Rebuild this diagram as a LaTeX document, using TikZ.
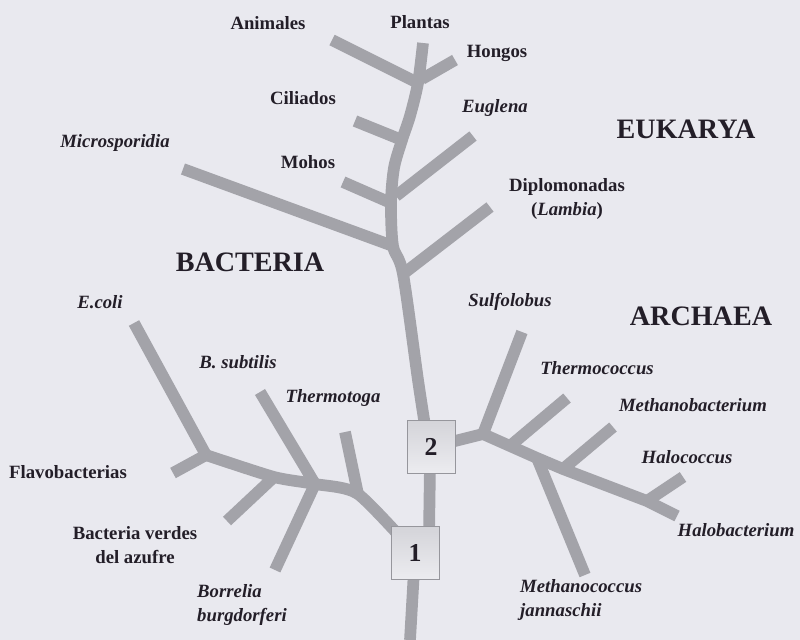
\documentclass[tikz,border=0pt]{standalone}
\usepackage{fontspec}
\setmainfont{Liberation Serif}
\definecolor{bg}{RGB}{233,233,239}
\definecolor{br}{RGB}{163,163,169}
\definecolor{ink}{RGB}{35,30,40}
\definecolor{boxedge}{RGB}{150,150,156}
\definecolor{boxtop}{RGB}{212,212,217}
\definecolor{boxbot}{RGB}{236,236,240}
\tikzset{
  branch/.style={draw=br, line width=10pt, line join=round, line cap=butt},
  lab/.style={text=ink, inner sep=0pt, font=\fontsize{16}{21}\selectfont\bfseries},
  ilab/.style={text=ink, inner sep=0pt, font=\fontsize{16}{21}\selectfont\bfseries\itshape},
  big/.style={text=ink, inner sep=0pt, font=\fontsize{24}{28}\selectfont\bfseries},
  numbox/.style={draw=boxedge, line width=0.8pt, top color=boxtop, bottom color=boxbot,
    minimum width=1.44cm, minimum height=1.59cm, inner sep=0pt, text=ink,
    font=\fontsize{22}{24}\selectfont\bfseries}
}
\begin{document}
\begin{tikzpicture}[x=0.03cm, y=-0.03cm]
\fill[bg] (0,0) rectangle (800,640);
\useasboundingbox (0,0) rectangle (800,640);
% --- coordinates ---
\coordinate (root) at (410,640);
\coordinate (c1) at (415,553);
\coordinate (c2) at (431,447);
\coordinate (m1) at (429,535);
\coordinate (m2) at (430,465);
% eukarya trunk
\coordinate (t0) at (426,432);
\coordinate (t1) at (418,380);
\coordinate (jD) at (403,274);
\coordinate (jM) at (393,246);
\coordinate (jMo) at (391,203);
\coordinate (jEu) at (396,196);
\coordinate (t2) at (394,168);
\coordinate (jC) at (402,140);
\coordinate (t3) at (410,116);
\coordinate (jA) at (418,83);
\coordinate (top) at (423,43);
\coordinate (eD) at (490,207);
\coordinate (eM) at (183,169);
\coordinate (eEu) at (473,136);
\coordinate (eMo) at (343,182);
\coordinate (eC) at (355,121);
\coordinate (eA) at (332,40);
\coordinate (jH) at (422,79);
\coordinate (eH) at (455,60);
% bacteria
\coordinate (jT) at (358,494);
\coordinate (jB) at (315,484);
\coordinate (jV) at (274,477);
\coordinate (jE) at (206,455);
\coordinate (eT) at (345,432);
\coordinate (eB) at (260,392);
\coordinate (eBo) at (275,570);
\coordinate (eV) at (227,521);
\coordinate (eE) at (134,323);
\coordinate (eF) at (173,473);
% archaea
\coordinate (jTc) at (483,434);
\coordinate (jMb) at (510,446);
\coordinate (jMc) at (537,458);
\coordinate (jHc) at (563,469);
\coordinate (jHb) at (647,501);
\coordinate (aEnd) at (677,516);
\coordinate (eTc) at (522,332);
\coordinate (eMb) at (567,398);
\coordinate (eHc) at (613,427);
\coordinate (eMc) at (585,575);
\coordinate (eHb) at (683,477);
% --- branches ---
\draw[branch] (root) -- (c1);
\draw[branch] (m1) -- (m2);
\draw[branch] plot[smooth, tension=0.5] coordinates {(t0) (t1) (jD) (jM) (jMo) (t2) (jC) (t3) (jA) (top)};
\draw[branch] (jD) -- (eD);
\draw[branch] (jM) -- (eM);
\draw[branch] (jEu) -- (eEu);
\draw[branch] (jMo) -- (eMo);
\draw[branch] (jC) -- (eC);
\draw[branch] (jA) -- (eA);
\draw[branch] (jH) -- (eH);
\draw[branch] plot[smooth, tension=0.4] coordinates {(c1) (jT) (jB) (jV) (jE)};
\draw[branch] (jT) -- (eT);
\draw[branch] (jB) -- (eB);
\draw[branch] (jB) -- (eBo);
\draw[branch] (jV) -- (eV);
\draw[branch] (jE) -- (eE);
\draw[branch] (jE) -- (eF);
\draw[branch] (c2) -- (jTc) -- (jMb) -- (jMc) -- (jHc) -- (jHb) -- (aEnd);
\draw[branch] (jTc) -- (eTc);
\draw[branch] (jMb) -- (eMb);
\draw[branch] (jHc) -- (eHc);
\draw[branch] (jMc) -- (eMc);
\draw[branch] (jHb) -- (eHb);
% --- boxes ---
\node[numbox] (b1) at (c1) {1};
\node[numbox] (b2) at (c2) {2};
% --- labels ---
\node[lab] (animales) at (268,23) {Animales};
\node[lab] (plantas) at (420,22) {Plantas};
\node[lab] (hongos) at (497,53) {Hongos};
\node[lab] (ciliados) at (303,98) {Ciliados};
\node[ilab] (euglena) at (495,108) {Euglena};
\node[big] (eukarya) at (686,129) {EUKARYA};
\node[ilab] (micro) at (115,143) {Microsporidia};
\node[lab] (mohos) at (308,162) {Mohos};
\node[lab, align=center] (diplo) at (567,199) {Diplomonadas\\(\textit{Lambia})};
\node[big] (bacteria) at (250,262) {BACTERIA};
\node[ilab] (ecoli) at (100,302) {E.coli};
\node[ilab] (sulfo) at (510,302) {Sulfolobus};
\node[big] (archaea) at (701,316) {ARCHAEA};
\node[ilab] (bsub) at (238,362) {B. subtilis};
\node[ilab] (thermoc) at (597,368) {Thermococcus};
\node[ilab] (thermot) at (333,398) {Thermotoga};
\node[ilab] (methb) at (693,405) {Methanobacterium};
\node[ilab] (haloc) at (687,457) {Halococcus};
\node[lab] (flavo) at (68,472) {Flavobacterias};
\node[ilab] (halob) at (736,530) {Halobacterium};
\node[lab, align=center] (verdes) at (135,545) {Bacteria verdes\\del azufre};
\node[ilab, align=left, anchor=west] (methc) at (520,600) {Methanococcus\\jannaschii};
\node[ilab, align=left, anchor=west] (borrelia) at (197,605) {Borrelia\\burgdorferi};
\end{tikzpicture}
\end{document}
